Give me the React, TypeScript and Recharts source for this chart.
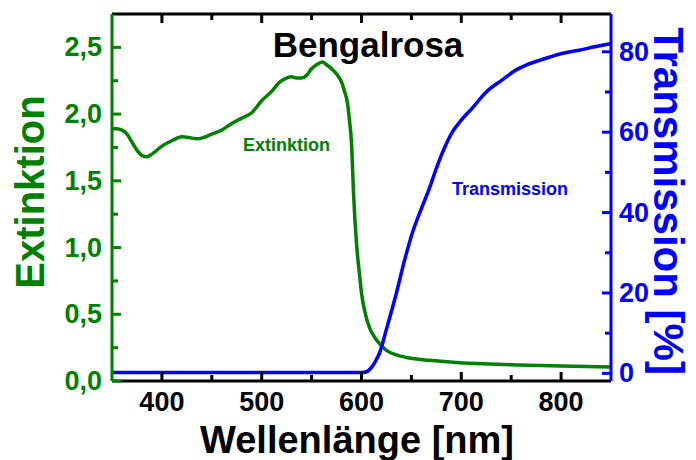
import React from 'react';
import { LineChart, Line, XAxis, YAxis } from 'recharts';

// Extinktion (left axis)
const extWavelength = [350, 355, 360, 365, 370, 375, 380, 385, 390, 400, 410, 420, 430, 435, 440, 450, 460, 470, 480, 490, 500, 510, 518, 525, 530, 535, 540, 545, 550, 555, 561, 565, 570, 575, 580, 583, 586, 588, 590, 592, 595, 598, 600, 604, 608, 613, 618, 625, 635, 650, 668, 698, 730, 758, 800, 850];
const extValue = [1.89, 1.89, 1.88, 1.85, 1.79, 1.73, 1.69, 1.68, 1.7, 1.76, 1.8, 1.83, 1.82, 1.815, 1.82, 1.85, 1.88, 1.93, 1.97, 2.01, 2.1, 2.17, 2.24, 2.27, 2.28, 2.27, 2.27, 2.29, 2.34, 2.37, 2.39, 2.37, 2.34, 2.3, 2.24, 2.17, 2.08, 1.95, 1.78, 1.41, 1.03, 0.8, 0.66, 0.5, 0.4, 0.33, 0.28, 0.23, 0.195, 0.17, 0.155, 0.137, 0.127, 0.12, 0.112, 0.105];

// Transmission in % (right axis)
const transWavelength = [350, 400, 500, 600, 605, 610, 614, 618, 625, 635, 643, 651, 660, 668, 675, 683, 691, 700, 711, 725, 741, 755, 765, 780, 798, 818, 835, 850];
const transValue = [0.2, 0.2, 0.2, 0.2, 0.4, 1.5, 3, 5, 11, 20, 28, 35, 41, 46, 51, 56, 60, 63, 66, 70, 73, 75.5, 76.7, 78, 79.4, 80.4, 81.3, 82];

const xTicks = [400, 450, 500, 550, 600, 650, 700, 750, 800];
const xLabels = [400, 500, 600, 700, 800];
const extTicks = [0, 0.25, 0.5, 0.75, 1, 1.25, 1.5, 1.75, 2, 2.25, 2.5];
const extLabels = [0, 0.5, 1, 1.5, 2, 2.5];
const transTicks = [0, 10, 20, 30, 40, 50, 60, 70, 80];
const transLabels = [0, 20, 40, 60, 80];

const GREEN = '#008000';
const BLUE = '#0000ff';
const FONT = '"Liberation Sans", Arial, Helvetica, sans-serif';
const TICK_FONT = 27;

const extData = extWavelength.map((wl, i) => ({ wl, ext: extValue[i] }));
const transData = transWavelength.map((wl, i) => ({ wl, trans: transValue[i] }));

const fmtComma = (v: number) => v.toFixed(1).replace('.', ',');

// inward tick marks: major longer than minor
const BottomTick = (props: any) => {
  const { x, y, payload } = props;
  const major = xLabels.includes(payload.value);
  return (
    <g>
      <path d={`M${x},${y}V${y - (major ? 9 : 6)}`} stroke="#000" strokeWidth={3} fill="none" />
      {major && (
        <text x={x} y={y + 21} textAnchor="middle" dominantBaseline="central"
          fontFamily={FONT} fontWeight="bold" fontSize={TICK_FONT} fill="#000">
          {payload.value}
        </text>
      )}
    </g>
  );
};

const TopTick = (props: any) => {
  const { x, y, payload } = props;
  const major = xLabels.includes(payload.value);
  return <path d={`M${x},${y}V${y + (major ? 9 : 6)}`} stroke="#000" strokeWidth={3} fill="none" />;
};

const LeftTick = (props: any) => {
  const { x, y, payload } = props;
  const major = extLabels.includes(payload.value);
  return (
    <g>
      <path d={`M${x},${y}H${x + (major ? 9 : 6)}`} stroke={GREEN} strokeWidth={3} fill="none" />
      {major && (
        <text x={x - 10} y={y} textAnchor="end" dominantBaseline="central"
          fontFamily={FONT} fontWeight="bold" fontSize={TICK_FONT} fill={GREEN}>
          {fmtComma(payload.value)}
        </text>
      )}
    </g>
  );
};

const RightTick = (props: any) => {
  const { x, y, payload } = props;
  const major = transLabels.includes(payload.value);
  return (
    <g>
      <path d={`M${x},${y}H${x - (major ? 9 : 6)}`} stroke={BLUE} strokeWidth={3} fill="none" />
      {major && (
        <text x={x + 8} y={y} textAnchor="start" dominantBaseline="central"
          fontFamily={FONT} fontWeight="bold" fontSize={TICK_FONT} fill={BLUE}>
          {payload.value}
        </text>
      )}
    </g>
  );
};

export default function App() {
  return (
    <div style={{ position: 'absolute', left: 0, top: 0, width: 696, height: 460, background: '#fff' }}>
      <LineChart width={696} height={460} margin={{ top: 0, right: 0, bottom: 0, left: 0 }}>
        <XAxis dataKey="wl" type="number" domain={[350, 850]} allowDataOverflow ticks={xTicks}
          height={79} tickSize={0} tickMargin={0} tick={<BottomTick />} tickLine={false}
          axisLine={{ stroke: '#000', strokeWidth: 3 }} interval={0} />
        <XAxis xAxisId="top" orientation="top" dataKey="wl" type="number" domain={[350, 850]} allowDataOverflow
          ticks={xTicks} height={14} tickSize={0} tickMargin={0} tick={<TopTick />} tickLine={false}
          axisLine={{ stroke: '#000', strokeWidth: 3 }} interval={0} />
        <YAxis yAxisId="ext" orientation="left" type="number" domain={[0, 2.75]} allowDataOverflow
          ticks={extTicks} width={112} tickSize={0} tickMargin={0} tick={<LeftTick />} tickLine={false}
          axisLine={{ stroke: GREEN, strokeWidth: 3 }} interval={0} />
        <YAxis yAxisId="trans" orientation="right" type="number" domain={[-1.9, 89.4]} allowDataOverflow
          ticks={transTicks} width={85} tickSize={0} tickMargin={0} tick={<RightTick />} tickLine={false}
          axisLine={{ stroke: BLUE, strokeWidth: 3 }} interval={0} />
        <Line yAxisId="ext" data={extData} dataKey="ext" type="monotone" stroke={GREEN}
          strokeWidth={3.5} dot={false} isAnimationActive={false} />
        <Line yAxisId="trans" data={transData} dataKey="trans" type="monotone" stroke={BLUE}
          strokeWidth={3.5} dot={false} isAnimationActive={false} />
      </LineChart>
      <svg width={696} height={460} style={{ position: 'absolute', left: 0, top: 0, pointerEvents: 'none' }}>
        <text x={368} y={57} textAnchor="middle" fontFamily={FONT} fontWeight="bold" fontSize={35} fill="#000">
          Bengalrosa
        </text>
        <text x={243} y={151} fontFamily={FONT} fontWeight="bold" fontSize={18} fill={GREEN}>
          Extinktion
        </text>
        <text x={568} y={195} textAnchor="end" fontFamily={FONT} fontWeight="bold" fontSize={18} fill={BLUE}>
          Transmission
        </text>
        <text x={357} y={453} textAnchor="middle" fontFamily={FONT} fontWeight="bold" fontSize={38} fill="#000">
          Wellenlänge [nm]
        </text>
        <text transform="translate(30,192) rotate(-90)" textAnchor="middle" dominantBaseline="central"
          fontFamily={FONT} fontWeight="bold" fontSize={40} fill={GREEN}>
          Extinktion
        </text>
        <text transform="translate(668,201) rotate(90)" textAnchor="middle" dominantBaseline="central"
          fontFamily={FONT} fontWeight="bold" fontSize={42} fill={BLUE}>
          Transmission [%]
        </text>
      </svg>
    </div>
  );
}
